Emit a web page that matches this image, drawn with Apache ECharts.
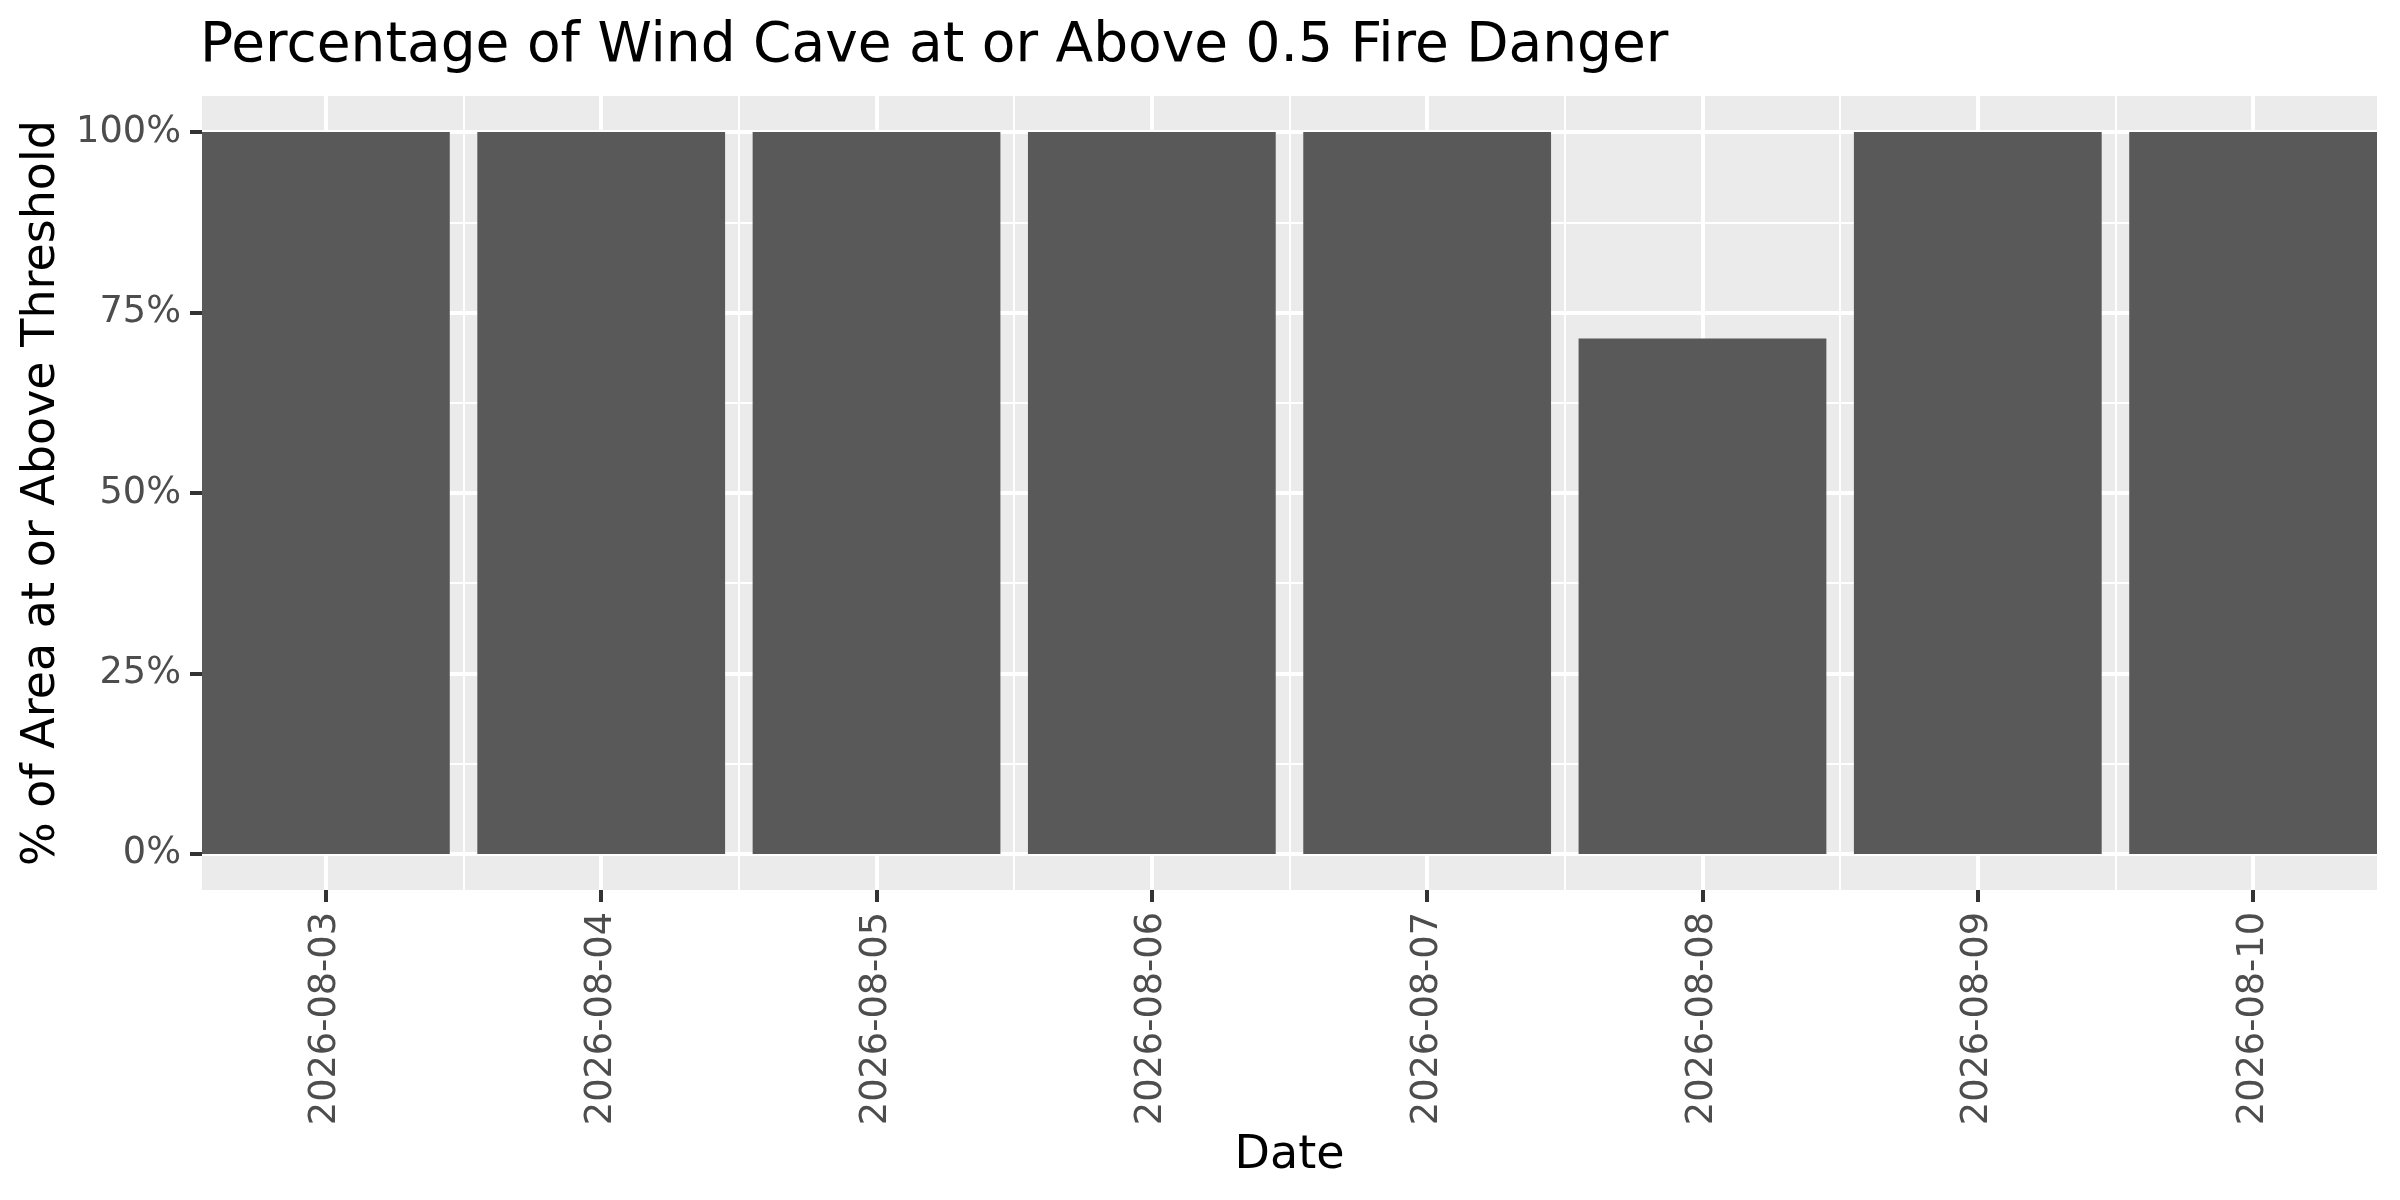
<!DOCTYPE html>
<html>
<head>
<meta charset="utf-8">
<script src="https://cdn.jsdelivr.net/npm/echarts@6/dist/echarts.min.js"></script>
<style>
html,body{margin:0;padding:0;background:#fff;}
#chart{width:2400px;height:1200px;}
</style>
</head>
<body>
<div id="chart"></div>
<script>
// ---- data ----
const dates = ['2026-08-03','2026-08-04','2026-08-05','2026-08-06','2026-08-07','2026-08-08','2026-08-09','2026-08-10'];
const pctValues = [100, 100, 100, 100, 100, 71.4, 100, 100];
const yTicks = [0, 25, 50, 75, 100];
const yMinorTicks = [12.5, 37.5, 62.5, 87.5];
const chartTitle = 'Percentage of Wind Cave at or Above 0.5 Fire Danger';
const yTitle = '% of Area at or Above Threshold';
const xTitle = 'Date';

// ---- layout ----
const W = 2400, H = 1200;
const gridL = 202, gridR = 23, gridT = 96, gridB = 310;
const xMin = 0.55, xMax = dates.length + 0.45;
const yMin = -5, yMax = 105;
const gridW = W - gridL - gridR;
const barPx = 0.9 * gridW / (xMax - xMin);

const xPos = dates.map((d, i) => i + 1);
const xMinor = dates.slice(1).map((d, i) => i + 1.5);
const font = 'DejaVu Sans';

const chart = echarts.init(document.getElementById('chart'), null, {renderer: 'canvas', width: W, height: H});
chart.setOption({
  backgroundColor: '#ffffff',
  animation: false,
  title: {
    text: chartTitle,
    left: gridL - 2,
    top: 19,
    padding: 0,
    textStyle: {fontFamily: font, fontSize: 55, fontWeight: 'normal', color: '#000000'}
  },
  grid: {left: gridL, right: gridR, top: gridT, bottom: gridB, show: true, backgroundColor: '#EBEBEB', borderWidth: 0},
  xAxis: [{
    type: 'value', min: xMin, max: xMax,
    name: xTitle, nameLocation: 'middle', nameGap: 234,
    nameTextStyle: {fontFamily: font, fontSize: 46, color: '#000000'},
    axisLine: {show: false, onZero: false},
    axisTick: {show: true, length: 12, customValues: xPos, lineStyle: {color: '#333333', width: 4}},
    axisLabel: {show: true, customValues: xPos, rotate: 90, margin: 22,
      fontFamily: font, fontSize: 36.7, color: '#4D4D4D',
      formatter: v => dates[Math.round(v) - 1] || ''},
    splitLine: {show: true, lineStyle: {color: '#ffffff', width: 4}}
  }, {
    type: 'value', min: xMin, max: xMax, position: 'bottom',
    axisLine: {show: false, onZero: false}, axisLabel: {show: false},
    axisTick: {show: false, customValues: xMinor},
    splitLine: {show: true, lineStyle: {color: '#ffffff', width: 2}}
  }],
  yAxis: [{
    type: 'value', min: yMin, max: yMax,
    name: yTitle, nameLocation: 'middle', nameGap: 132,
    nameTextStyle: {fontFamily: font, fontSize: 46, color: '#000000'},
    axisLine: {show: false, onZero: false},
    axisTick: {show: true, length: 12, customValues: yTicks, lineStyle: {color: '#333333', width: 4}},
    axisLabel: {show: true, customValues: yTicks, margin: 21,
      fontFamily: font, fontSize: 36.7, color: '#4D4D4D',
      formatter: v => v + '%'},
    splitLine: {show: true, lineStyle: {color: '#ffffff', width: 4}}
  }, {
    type: 'value', min: yMin, max: yMax, position: 'left',
    axisLine: {show: false, onZero: false}, axisLabel: {show: false},
    axisTick: {show: false, customValues: yMinorTicks},
    splitLine: {show: true, lineStyle: {color: '#ffffff', width: 2}}
  }],
  series: [{
    type: 'bar',
    xAxisIndex: 0, yAxisIndex: 0,
    barWidth: barPx,
    itemStyle: {color: '#595959'},
    data: pctValues.map((v, i) => [xPos[i], v])
  }]
});
</script>
</body>
</html>
